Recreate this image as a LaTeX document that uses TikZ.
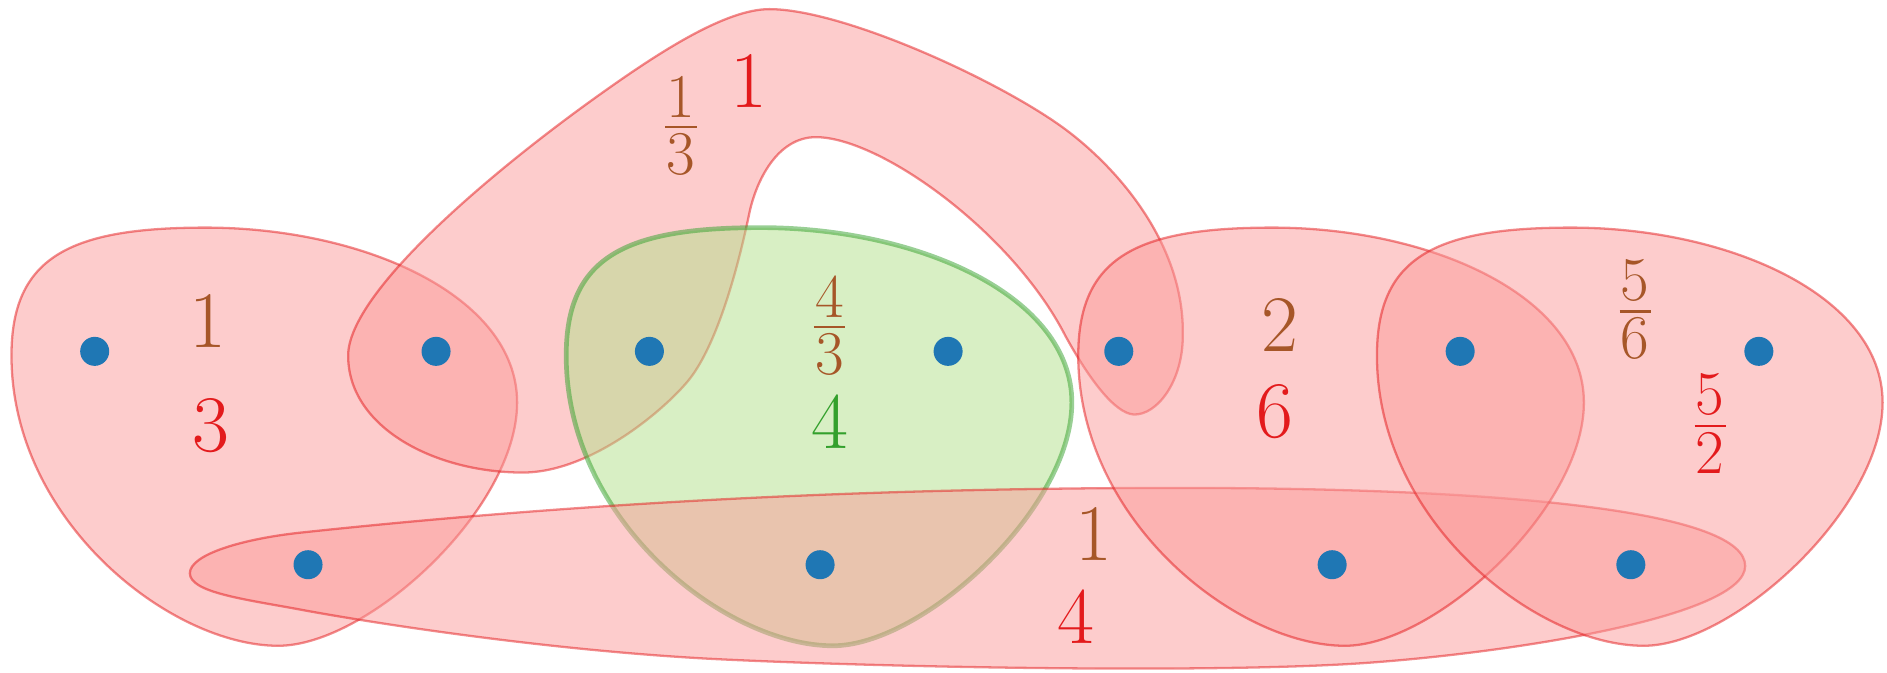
\documentclass[tikz,border=0pt]{standalone}
\usepackage{fontspec}
\definecolor{efill}{HTML}{FB9A99}
\definecolor{eline}{HTML}{E31A1C}
\definecolor{gfill}{HTML}{B2DF8A}
\definecolor{gline}{HTML}{33A02C}
\definecolor{lbrown}{HTML}{A65628}
\definecolor{lred}{HTML}{E31A1C}
\definecolor{lgreen}{HTML}{33A02C}
\definecolor{dotblue}{HTML}{1F77B4}
\newcommand\fr[2]{\vbox{\offinterlineskip\halign{\hfil##\hfil\cr #1\cr\noalign{\kern0.138em}\rule{0.5em}{0.043em}\cr\noalign{\kern0.075em}#2\cr}}}
\tikzset{
  redhe/.style={fill=efill, fill opacity=0.5, draw=eline, draw opacity=0.5, line width=0.61pt},
  greenhe/.style={fill=gfill, fill opacity=0.5, draw=gline, draw opacity=0.5, line width=1.25pt},
  vdot/.style={circle, fill=dotblue, inner sep=0pt, minimum size=0.68*0.4cm},
  big/.style={inner sep=0pt, font=\fontsize{21.4}{24}\selectfont},
  small/.style={inner sep=0pt, font=\fontsize{16.6}{18}\selectfont},
  egg/.pic={\path[pic actions] (-1.95,4.9) .. controls (-1.95,7.2) and (-0.6,7.9) .. (2.6,7.9)
      .. controls (6.3,7.9) and (9.9,6.3) .. (9.9,3.8)
      .. controls (9.9,1.3) and (6.4,-1.9) .. (4.3,-1.9)
      .. controls (1.8,-1.9) and (-1.95,1.0) .. cycle;}
}
\begin{document}
\begin{tikzpicture}[x=0.4cm, y=0.4cm]
\useasboundingbox (-2.219,-2.515) rectangle (42.003,13.234);
% hyperedges
\pic[redhe] at (0,0) {egg};
\path[redhe] (5.94,4.9) .. controls (5.94,6.4) and (9.4,9.3) .. (11.98,11.12)
  .. controls (13.28,12.04) and (14.8,13.02) .. (15.81,13.02)
  .. controls (17.5,13.02) and (21.07,11.41) .. (22.67,10.26)
  .. controls (23.97,9.32) and (25.55,7.5) .. (25.5,5.36)
  .. controls (25.5,4.3) and (24.9,3.5) .. (24.35,3.52)
  .. controls (23.9,3.55) and (23.3,4.36) .. (22.75,5.36)
  .. controls (21.5,7.8) and (18.4,10.02) .. (16.9,10.02)
  .. controls (16.0,10.02) and (15.5,9.0) .. (15.34,8.23)
  .. controls (15.0,6.6) and (14.5,5.02) .. (13.9,4.3)
  .. controls (13.3,3.58) and (11.6,2.16) .. (10.03,2.16)
  .. controls (8.0,2.16) and (5.94,3.2) .. cycle;
\pic[greenhe] at (13,0) {egg};
\path[redhe] (2.23,-0.2) .. controls (2.23,0.25) and (3.51,0.61) .. (4.81,0.75)
  .. controls (11.71,1.49) and (18.5,1.80) .. (25.4,1.80)
  .. controls (33.5,1.80) and (38.68,1.2) .. (38.68,-0.03)
  .. controls (38.68,-1.2) and (33.32,-2.05) .. (29.82,-2.30)
  .. controls (26.32,-2.55) and (18.72,-2.41) .. (14.72,-2.22)
  .. controls (10.72,-2.03) and (6.41,-1.35) .. (4.81,-1.05)
  .. controls (3.51,-0.81) and (2.23,-0.65) .. cycle;
\pic[redhe] at (25,0) {egg};
\pic[redhe] at (32,0) {egg};
% vertices
\node[vdot] (v1) at (0,5) {};
\node[vdot] (v2) at (8,5) {};
\node[vdot] (v3) at (13,5) {};
\node[vdot] (v4) at (20,5) {};
\node[vdot] (v5) at (24,5) {};
\node[vdot] (v6) at (32,5) {};
\node[vdot] (v7) at (39,5) {};
\node[vdot] (v8) at (5,0) {};
\node[vdot] (v9) at (17,0) {};
\node[vdot] (v10) at (29,0) {};
\node[vdot] (v11) at (36,0) {};
% labels
\node[big, text=lbrown] (a1) at (2.66,5.72) {1};
\node[big, text=lred] (a2) at (2.72,3.25) {3};
\node[small, text=lbrown] (b1) at (13.74,10.29) {\fr{1}{3}};
\node[big, text=lred] (b2) at (15.34,11.34) {1};
\node[small, text=lbrown] (c1) at (17.22,5.61) {\fr{4}{3}};
\node[big, text=lgreen] (c2) at (17.22,3.35) {4};
\node[big, text=lbrown] (d1) at (23.41,0.71) {1};
\node[big, text=lred] (d2) at (22.99,-1.22) {4};
\node[big, text=lbrown] (e1) at (27.78,5.62) {2};
\node[big, text=lred] (e2) at (27.67,3.58) {6};
\node[small, text=lbrown] (f1) at (36.1,5.98) {\fr{5}{6}};
\node[small, text=lred] (f2) at (37.86,3.31) {\fr{5}{2}};
\end{tikzpicture}
\end{document}
